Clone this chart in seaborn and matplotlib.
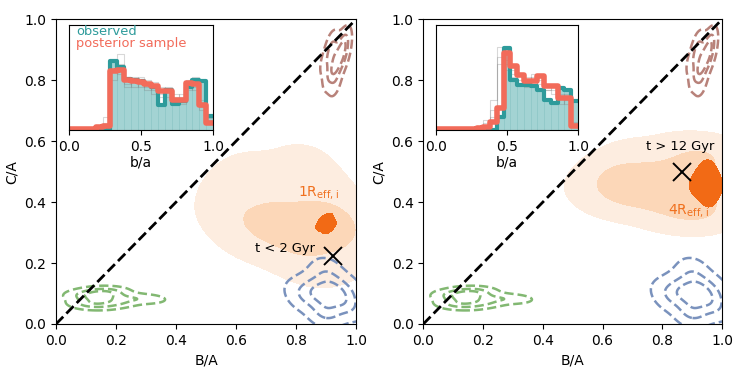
import numpy as np
import pandas as pd
import seaborn as sns
import matplotlib.pyplot as plt

# inset histogram bins (21 bins on 0..1)
n_bins = 21
centers = (np.arange(n_bins) + 0.5) / n_bins

# left panel (1 Reff) b/a histograms
obs_1 = [0, 0, 0, 0, 0, 0, 207, 190, 155, 150, 148, 140, 130, 75, 122, 80, 88, 130, 150, 147, 42]
post_1 = [2, 2, 2, 3, 8, 12, 178, 182, 150, 148, 145, 140, 132, 118, 117, 92, 92, 142, 140, 77, 22]
samp_1 = [
    [0, 0, 0, 2, 6, 20, 150, 200, 160, 130, 150, 120, 145, 110, 130, 100, 80, 150, 120, 60, 30],
    [0, 0, 2, 4, 10, 40, 210, 170, 140, 160, 130, 150, 120, 130, 100, 110, 100, 120, 160, 90, 20],
    [0, 0, 0, 0, 4, 15, 180, 230, 130, 150, 160, 130, 110, 100, 120, 90, 110, 140, 130, 70, 35],
]

# right panel (4 Reff) b/a histograms
obs_4 = [0, 0, 0, 0, 0, 0, 0, 0, 0, 40, 247, 152, 137, 137, 132, 122, 92, 82, 127, 122, 87]
post_4 = [2, 2, 2, 2, 2, 4, 6, 10, 25, 67, 232, 192, 167, 147, 147, 162, 132, 132, 97, 97, 12]
samp_4 = [
    [0, 0, 0, 0, 2, 4, 8, 20, 90, 200, 210, 180, 150, 160, 140, 150, 120, 140, 110, 90, 20],
    [0, 0, 0, 0, 0, 2, 6, 10, 40, 250, 180, 160, 170, 130, 160, 140, 140, 120, 80, 110, 15],
    [0, 0, 0, 2, 4, 8, 12, 30, 60, 220, 200, 170, 140, 150, 170, 120, 120, 110, 100, 80, 25],
]

# reference populations (dashed contours), B/A and C/A
green_x = [0.08, 0.09, 0.10, 0.12, 0.13, 0.14, 0.15, 0.15, 0.16, 0.17, 0.18, 0.20, 0.22, 0.25, 0.28, 0.32,
           0.11, 0.14, 0.17, 0.12, 0.16, 0.21, 0.10, 0.19]
green_y = [0.09, 0.10, 0.07, 0.09, 0.08, 0.085, 0.10, 0.065, 0.09, 0.08, 0.10, 0.07, 0.09, 0.08, 0.085, 0.08,
           0.06, 0.11, 0.105, 0.10, 0.06, 0.07, 0.07, 0.11]
blue_x = [0.90, 0.88, 0.92, 0.94, 0.86, 0.96, 0.90, 0.93, 0.89, 0.83, 0.98, 0.90, 0.86, 0.95, 0.90, 0.81, 0.99]
blue_y = [0.10, 0.08, 0.12, 0.09, 0.11, 0.07, 0.15, 0.05, 0.04, 0.08, 0.10, 0.18, 0.13, 0.13, 0.03, 0.11, 0.05]
brown_x = [0.93, 0.92, 0.95, 0.96, 0.91, 0.94, 0.96, 0.92, 0.93, 0.90, 0.95, 0.92, 0.96, 0.93]
brown_y = [0.88, 0.84, 0.90, 0.93, 0.81, 0.86, 0.92, 0.90, 0.83, 0.86, 0.86, 0.92, 0.89, 0.79]

# inferred shapes (1 Reff)
shape_x_1 = [0.90, 0.92, 0.88, 0.86, 0.82, 0.78, 0.74, 0.70, 0.95, 0.97, 0.85, 0.88, 0.80, 0.76, 0.93,
             0.56, 0.58, 0.62, 0.68, 0.80, 0.92, 0.88, 0.82, 0.75, 0.65, 0.60, 0.72, 0.96, 0.64, 0.84]
shape_y_1 = [0.33, 0.32, 0.34, 0.31, 0.34, 0.32, 0.33, 0.31, 0.31, 0.35, 0.28, 0.37, 0.29, 0.36, 0.30,
             0.36, 0.42, 0.47, 0.50, 0.49, 0.44, 0.19, 0.20, 0.24, 0.27, 0.31, 0.43, 0.22, 0.38, 0.53]
core_x_1 = [0.90, 0.91, 0.89, 0.92, 0.90, 0.91, 0.88]
core_y_1 = [0.33, 0.32, 0.34, 0.33, 0.31, 0.35, 0.32]

# inferred shapes (4 Reff)
shape_x_4 = [0.95, 0.93, 0.96, 0.90, 0.86, 0.82, 0.76, 0.70, 0.66, 0.90, 0.90, 0.82, 0.82, 0.97, 0.97, 0.74, 0.74,
             0.57, 0.61, 0.62, 0.70, 0.85, 0.95, 0.95, 0.80, 0.68, 0.88, 0.64]
shape_y_4 = [0.46, 0.42, 0.50, 0.46, 0.47, 0.45, 0.46, 0.45, 0.46, 0.39, 0.53, 0.40, 0.52, 0.38, 0.55, 0.41, 0.51,
             0.45, 0.41, 0.51, 0.56, 0.58, 0.57, 0.35, 0.36, 0.39, 0.35, 0.49]
core_x_4 = [0.95, 0.94, 0.96, 0.92, 0.98, 0.95, 0.91, 0.96, 0.93, 0.98]
core_y_4 = [0.46, 0.42, 0.50, 0.46, 0.44, 0.51, 0.45, 0.41, 0.49, 0.47]

# simulation markers
sim_1 = (0.923, 0.223)
sim_4 = (0.866, 0.499)

light, medium, dark = '#fdede0', '#fcd7b8', '#f26a15'
teal = '#2e9b9b'
salmon = '#f26b5a'

fig = plt.figure(figsize=(7.47, 3.74), dpi=100)
ax1 = fig.add_axes([0.075, 0.1337, 0.4016, 0.8147])
ax2 = fig.add_axes([0.5667, 0.1337, 0.4, 0.8147])
in1 = fig.add_axes([0.0924, 0.6524, 0.1928, 0.2807])
in2 = fig.add_axes([0.5837, 0.6524, 0.19, 0.2807])


def main_panel(ax, sx, sy, cx, cy, mid, core):
    df = pd.DataFrame({'ba': sx, 'ca': sy})
    sns.kdeplot(data=df, x='ba', y='ca', fill=True, levels=[0.05, mid, 1.0],
                color=medium, colors=[light, medium], ax=ax)
    dc = pd.DataFrame({'ba': cx, 'ca': cy})
    sns.kdeplot(data=dc, x='ba', y='ca', fill=True, levels=[core, 1.0], color=dark, colors=[dark], ax=ax)
    for px, py, c in [(green_x, green_y, '#82b872'), (blue_x, blue_y, '#7a92bd'), (brown_x, brown_y, '#b8827a')]:
        d = pd.DataFrame({'ba': px, 'ca': py})
        sns.kdeplot(data=d, x='ba', y='ca', levels=[0.06, 0.35, 0.7], bw_adjust=1.1, color=c,
                    linestyles='--', linewidths=1.8, ax=ax)
    ax.plot([0, 1], [0, 1], 'k--', lw=2)
    ax.set_xlim(0, 1)
    ax.set_ylim(0, 1)
    ax.set_xlabel('B/A')
    ax.set_ylabel('C/A')


def inset(ax, obs, post, samples, legend):
    hk = dict(x=centers, bins=n_bins, binrange=(0, 1), ax=ax)
    sns.histplot(weights=obs, element='bars', color='#a3d3d3', edgecolor='#8cc6c6',
                 linewidth=0.5, alpha=1, **hk)
    for s in samples:
        sns.histplot(weights=s, element='step', fill=False, color='gray', alpha=0.3, linewidth=0.8, **hk)
    sns.histplot(weights=obs, element='step', fill=False, color=teal, linewidth=3, **hk)
    sns.histplot(weights=post, element='step', fill=False, color=salmon, linewidth=4, **hk)
    ax.set_xlim(0, 1)
    ax.set_ylim(0, 317)
    ax.set_yticks([])
    ax.set_ylabel('')
    ax.set_xticks([0, 0.5, 1.0])
    ax.set_xlabel('b/a', labelpad=1)
    if legend:
        ax.text(0.05, 0.94, 'observed', color=teal, fontsize=9.4, transform=ax.transAxes, va='center')
        ax.text(0.05, 0.82, 'posterior sample', color=salmon, fontsize=9.4, transform=ax.transAxes, va='center')


main_panel(ax1, shape_x_1, shape_y_1, core_x_1, core_y_1, 0.55, 0.1)
main_panel(ax2, shape_x_4, shape_y_4, core_x_4, core_y_4, 0.42, 0.14)
inset(in1, obs_1, post_1, samp_1, True)
inset(in2, obs_4, post_4, samp_4, False)

ax1.plot(*sim_1, 'kx', ms=13, mew=1.4)
ax1.text(0.863, 0.249, 't < 2 Gyr', ha='right', va='center', fontsize=9.4)
ax1.text(0.877, 0.43, r'1R$_{\mathrm{eff,\,i}}$', color='#f0701e', ha='center', va='center', fontsize=10)

ax2.plot(*sim_4, 'kx', ms=13, mew=1.4)
ax2.text(0.861, 0.581, 't > 12 Gyr', ha='center', va='center', fontsize=9.4)
ax2.text(0.888, 0.374, r'4R$_{\mathrm{eff,\,i}}$', color='#f0701e', ha='center', va='center', fontsize=10)

fig.savefig('out.png', dpi=100)
